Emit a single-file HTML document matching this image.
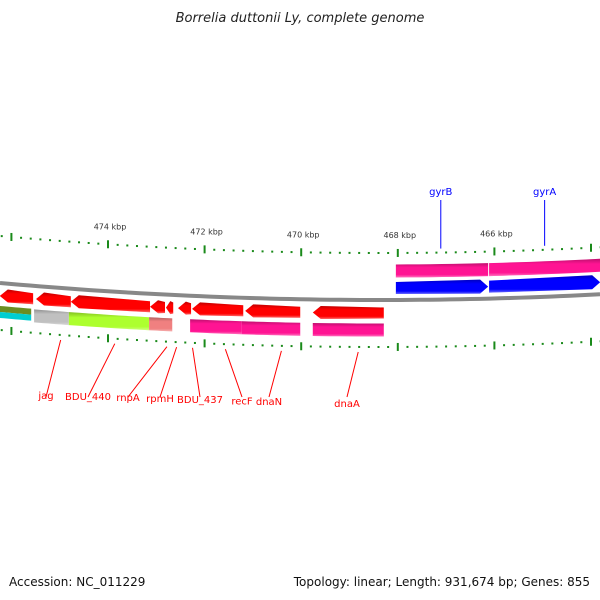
<!DOCTYPE html>
<html><head><meta charset="utf-8"><style>
html,body{margin:0;padding:0;background:#fff}
svg{display:block;font-family:"DejaVu Sans","Liberation Sans",sans-serif}
</style></head><body>
<svg id="c" width="600" height="600" viewBox="0 0 600 600">
<defs>
<linearGradient id="gv" x1="0" y1="0" x2="0" y2="1"><stop offset="0" stop-color="#000" stop-opacity="0.25"/><stop offset="0.3" stop-color="#000" stop-opacity="0"/><stop offset="0.8" stop-color="#fff" stop-opacity="0"/><stop offset="1" stop-color="#fff" stop-opacity="0.4"/></linearGradient>
</defs>
<text x="300" y="22" text-anchor="middle" font-size="13" font-style="italic" fill="#222">Borrelia duttonii Ly, complete genome</text>
<text x="9" y="586" font-size="12" fill="#111">Accession: NC_011229</text>
<text x="590" y="586" font-size="12" fill="#111" text-anchor="end">Topology: linear; Length: 931,674 bp; Genes: 855</text>
<g id="g"></g>
</svg>
<script>
// data (kbp)
const tickMajor = [476, 474, 472, 470, 468, 466, 464];
const tickLabels = ["474 kbp", "472 kbp", "470 kbp", "468 kbp", "466 kbp"];
const tickLabelPos = [474, 472, 470, 468, 466];
const revStarts = [476.24, 475.49, 474.77, 473.13, 472.80, 472.55, 472.26, 471.16, 469.76];
const revEnds   = [475.55, 474.77, 473.13, 472.82, 472.65, 472.28, 471.20, 470.02, 468.29];
const revColStarts = [475.53, 474.81, 473.15, 472.30, 471.23, 469.76];
const revColEnds   = [474.81, 473.15, 472.67, 471.23, 470.02, 468.29];
const revColColors = ["#c0c0c0", "#adff2f", "#f08080", "#ff1493", "#ff1493", "#ff1493"];
const fwdStarts = [468.04, 466.11];
const fwdEnds   = [466.13, 463.81];
const fwdColColors = ["#ff1493", "#ff1493"];
const revNames = ["jag", "BDU_440", "rnpA", "rpmH", "BDU_437", "recF", "dnaN", "dnaA"];
const revNameAnchors = [474.98, 473.86, 472.78, 472.58, 472.25, 471.57, 470.41, 468.82];
const revNameTextX = [46, 88, 128, 160, 200, 242, 269, 347];
const fwdNames = ["gyrB", "gyrA"];
const fwdNameAnchors = [467.11, 464.96];

const X = k => 108 + (474 - k) * 48.3;
const C = x => 300 - 0.000118 * (x - 380) * (x - 380);
const NS = "http://www.w3.org/2000/svg";
const g = document.getElementById('g');
function mk(t, a) { const e = document.createElementNS(NS, t); for (const k in a) e.setAttribute(k, a[k]); g.appendChild(e); return e; }
function band(x1, x2, off, h) { // polygon following curve
  let p = [], n = 8;
  for (let i = 0; i <= n; i++) { const x = x1 + (x2 - x1) * i / n; p.push([x, C(x) + off - h / 2]); }
  for (let i = n; i >= 0; i--) { const x = x1 + (x2 - x1) * i / n; p.push([x, C(x) + off + h / 2]); }
  return p.map(q => q.join(',')).join(' ');
}
function arrow(x1, x2, off, h, dir) { // dir -1 left, +1 right
  const a = Math.min(8, Math.abs(x2 - x1) * 0.6);
  const L = Math.min(x1, x2), R = Math.max(x1, x2);
  const yL = C(L) + off, yR = C(R) + off;
  if (dir < 0) return [[L, yL], [L + a, yL - h / 2 - 1], [R, yR - h / 2], [R, yR + h / 2], [L + a, yL + h / 2 + 1]].map(q => q.join(',')).join(' ');
  return [[L, yL - h / 2], [R - a, yR - h / 2 - 1], [R, yR], [R - a, yR + h / 2 + 1], [L, yL + h / 2]].map(q => q.join(',')).join(' ');
}
// backbone
let d = "";
for (let x = 0; x <= 600; x += 10) d += (x ? "L" : "M") + x + "," + C(x);
let e = mk('path', { d: d, stroke: '#888', 'stroke-width': 4, fill: 'none' });


// ticks
for (let k = 476.2; k >= 463.6; k -= 0.2) {
  const kk = Math.round(k * 10) / 10, x = X(kk);
  const major = tickMajor.some(m => Math.abs(m - kk) < 0.01);
  for (const off of [-47, 47]) {
    const y = C(x) + off;
    const t = mk('rect', { x: x - (major ? 1 : 1), y: y - (major ? 4 : 1), width: 2, height: major ? 8 : 2, fill: '#1a8a1a' });
    
    
  }
}
tickLabels.forEach((s, i) => {
  const x = X(tickLabelPos[i]);
  const t = mk('text', { x: x + 2, y: C(x) - 62, 'text-anchor': 'middle', 'font-size': 8, fill: '#333' });
  t.textContent = s;
  
  
});
// reverse genes
revStarts.forEach((s, i) => {
  const p = arrow(X(s), X(revEnds[i]), 13, 11, -1);
  const a = mk('polygon', { points: p, fill: '#ff0000' });
  
  
  mk('polygon', { points: p, fill: 'url(#gv)' });
});
// left partial colored bars (olive / cyan)
let b = mk('polygon', { points: band(0, X(475.59), 26, 6), fill: '#6b8e23' });


b = mk('polygon', { points: band(0, X(475.59), 32, 6), fill: '#00ced1' });


revColStarts.forEach((s, i) => {
  const p = band(X(s), X(revColEnds[i]), 30, 13);
  const r = mk('polygon', { points: p, fill: revColColors[i] });
  
  
  mk('polygon', { points: p, fill: 'url(#gv)' });
});
// forward genes
fwdStarts.forEach((s, i) => {
  let p = band(X(s), X(fwdEnds[i]), -29, 13);
  const r = mk('polygon', { points: p, fill: fwdColColors[i] });
  
  
  mk('polygon', { points: p, fill: 'url(#gv)' });
  p = arrow(X(s), X(fwdEnds[i]), -12, 12, 1);
  const a = mk('polygon', { points: p, fill: '#0000ff' });
  
  
  mk('polygon', { points: p, fill: 'url(#gv)' });
});
// labels
revNames.forEach((n, i) => {
  const x = X(revNameAnchors[i]), y = C(x) + 52, tx = revNameTextX[i];
  const l = mk('line', { x1: x, y1: y, x2: tx, y2: 397, stroke: '#ff0000', 'stroke-width': 1 });
  
  
  const t = mk('text', { x: tx, y: 399 + (tx - 46) * 0.027, 'text-anchor': 'middle', 'font-size': 10, fill: '#ff0000' });
  t.textContent = n;
  
  
});
fwdNames.forEach((n, i) => {
  const x = X(fwdNameAnchors[i]), y = C(x) - 51;
  const l = mk('line', { x1: x, y1: y, x2: x, y2: 200, stroke: '#0000ff', 'stroke-width': 1 });
  
  
  const t = mk('text', { x: x, y: 195, 'text-anchor': 'middle', 'font-size': 10, fill: '#0000ff' });
  t.textContent = n;
  
  
});
</script>
</body></html>
